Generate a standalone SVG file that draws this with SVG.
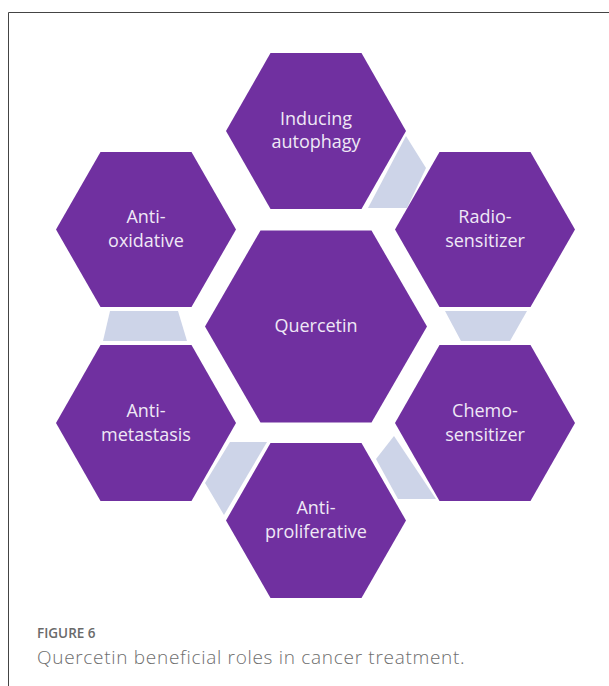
<svg xmlns="http://www.w3.org/2000/svg" width="609" height="686" viewBox="0 0 609 686">
<style>
.hex{fill:#7030a0;}
.con{fill:#cdd4e8;}
.lbl{font-family:"Open Sans","Liberation Sans",sans-serif;font-size:18px;fill:#efe8f6;text-anchor:middle;}
.cap1{font-family:"Open Sans","Liberation Sans",sans-serif;font-size:13.5px;font-weight:600;fill:#6a6a6a;}
.cap2{font-family:"Open Sans","Liberation Sans",sans-serif;font-size:19px;font-weight:300;letter-spacing:0.7px;fill:#6e6e6e;}
</style>
<rect width="609" height="686" fill="#ffffff"/>
<path d="M8.5,686 V12.5 H609" fill="none" stroke="#444" stroke-width="1"/>
<g id="connectors">
<polygon class="con" points="406,136 426,168 407,208 368,208"/>
<polygon class="con" points="445,311 527,311 510,341 461,341"/>
<polygon class="con" points="394,436 436,499 398,499 376,459"/>
<polygon class="con" points="230,442 267,442 224,515 205,483"/>
<polygon class="con" points="110,311 178,311 187,341 103,341"/>
</g>
<g id="n-autophagy">
<polygon class="hex" points="226,131 270.5,53 361.5,53 406,131 361.5,209 270.5,209"/>
<text class="lbl" x="316" y="125">Inducing</text>
<text class="lbl" x="316" y="148">autophagy</text>
</g>
<g id="n-radio">
<polygon class="hex" points="395,229.5 439.5,152 530.5,152 575,229.5 530.5,307 439.5,307"/>
<text class="lbl" x="485" y="223">Radio-</text>
<text class="lbl" x="485" y="247">sensitizer</text>
</g>
<g id="n-chemo">
<polygon class="hex" points="395,423 439.5,345 530.5,345 575,423 530.5,501 439.5,501"/>
<text class="lbl" x="485" y="417">Chemo-</text>
<text class="lbl" x="485" y="441">sensitizer</text>
</g>
<g id="n-proliferative">
<polygon class="hex" points="226,520.5 270.5,443 361.5,443 406,520.5 361.5,598 270.5,598"/>
<text class="lbl" x="316" y="514">Anti-</text>
<text class="lbl" x="316" y="538">proliferative</text>
</g>
<g id="n-metastasis">
<polygon class="hex" points="56,423 100.5,345 191.5,345 236,423 191.5,501 100.5,501"/>
<text class="lbl" x="146" y="417">Anti-</text>
<text class="lbl" x="146" y="441">metastasis</text>
</g>
<g id="n-oxidative">
<polygon class="hex" points="56,229.5 100.5,152 191.5,152 236,229.5 191.5,307 100.5,307"/>
<text class="lbl" x="146" y="223">Anti-</text>
<text class="lbl" x="146" y="247">oxidative</text>
</g>
<g id="n-quercetin">
<polygon class="hex" points="205,326.5 260.5,230.5 371.5,230.5 427,326.5 371.5,422.5 260.5,422.5"/>
<text class="lbl" x="316" y="332">Quercetin</text>
</g>
<g id="caption">
<text class="cap1" x="37" y="638">FIGURE 6</text>
<text class="cap2" x="37" y="664">Quercetin beneficial roles in cancer treatment.</text>
</g>
</svg>
